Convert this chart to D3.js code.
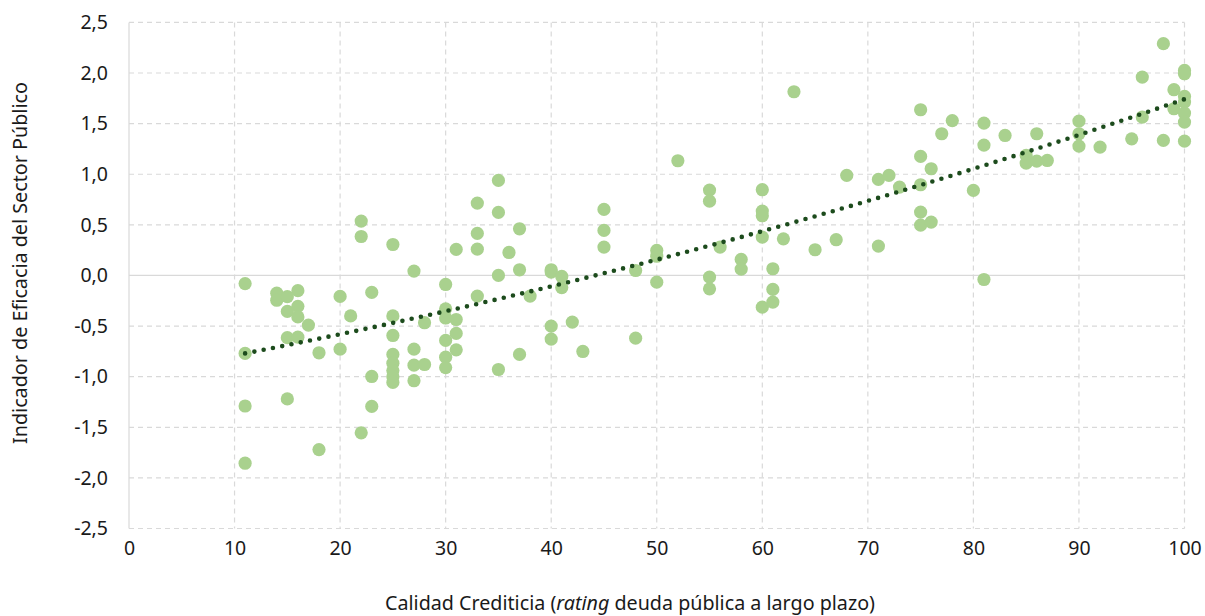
<!DOCTYPE html>
<html>
<head>
<meta charset="utf-8">
<script src="https://cdn.jsdelivr.net/npm/d3@7"></script>
<style>
  html, body { margin: 0; padding: 0; background: #ffffff; }
  svg { display: block; }
  text { fill: #1a1a1a; }
</style>
</head>
<body>
<svg id="chart" width="1205" height="616"></svg>
<script>
// Credit rating (0-100) of long-term public debt, grouped by rating value,
// with the public sector efficacy indicator of each country at that rating.
const ratingValues = [11, 14, 15, 16, 17, 18, 20, 21, 22, 23, 25, 27, 28, 30, 31, 33, 35, 36, 37, 38,
  40, 41, 42, 43, 45, 48, 50, 52, 55, 56, 58, 60, 61, 62, 63, 65, 67, 68, 71, 72, 73, 75, 76, 77, 78,
  80, 81, 83, 85, 86, 87, 90, 92, 95, 96, 98, 99, 100];
const efficacyByRating = [
  [-0.08, -0.77, -1.29, -1.855],
  [-0.175, -0.245],
  [-0.21, -0.355, -0.615, -1.22],
  [-0.15, -0.305, -0.41, -0.61],
  [-0.49],
  [-0.764, -1.72],
  [-0.207, -0.728],
  [-0.40],
  [0.537, 0.385, -1.555],
  [-0.168, -0.998, -1.294],
  [0.306, -0.40, -0.593, -0.78, -0.867, -0.94, -1.0, -1.057],
  [0.043, -0.728, -0.886, -1.04],
  [-0.467, -0.88],
  [-0.089, -0.33, -0.42, -0.642, -0.807, -0.91],
  [0.257, -0.435, -0.573, -0.735],
  [0.715, 0.415, 0.26, -0.204],
  [0.939, 0.623, 0.0, -0.929],
  [0.227],
  [0.461, 0.056, -0.78],
  [-0.204],
  [0.056, 0.033, -0.5, -0.629],
  [-0.01, -0.12],
  [-0.461],
  [-0.751],
  [0.652, 0.445, 0.28],
  [0.049, -0.62],
  [0.247, 0.19, -0.066],
  [1.133],
  [0.843, 0.734, -0.016, -0.132],
  [0.28],
  [0.158, 0.063],
  [0.847, 0.636, 0.59, 0.379, -0.313],
  [0.066, -0.138, -0.263],
  [0.362],
  [1.815],
  [0.254],
  [0.353],
  [0.988],
  [0.949, 0.29],
  [0.988],
  [0.873],
  [1.637, 1.176, 0.896, 0.626, 0.497],
  [1.054, 0.527],
  [1.40],
  [1.53],
  [0.84],
  [1.505, 1.288, -0.04],
  [1.383],
  [1.186, 1.11],
  [1.40, 1.13],
  [1.136],
  [1.525, 1.40, 1.278],
  [1.268],
  [1.35],
  [1.96, 1.565],
  [2.29, 1.334],
  [1.835, 1.647],
  [2.026, 1.993, 1.769, 1.713, 1.604, 1.515, 1.327]
];

const xTickValues = [0, 10, 20, 30, 40, 50, 60, 70, 80, 90, 100];
const yTickValues = [-2.5, -2, -1.5, -1, -0.5, 0, 0.5, 1, 1.5, 2, 2.5];

const xTitle = "Calidad Crediticia (";
const xTitleItalic = "rating";
const xTitleEnd = " deuda pública a largo plazo)";
const yTitle = "Indicador de Eficacia del Sector Público";

// Flatten into one point per country
const points = [];
ratingValues.forEach((r, i) => efficacyByRating[i].forEach(v => points.push({ x: r, y: v })));

const svg = d3.select("#chart");
const tickFont = "'Noto Sans', 'Open Sans', sans-serif";

const x = d3.scaleLinear().domain([0, 100]).range([129, 1184.5]);
const y = d3.scaleLinear().domain([-2.5, 2.5]).range([528.5, 22.4]);

const grid = svg.append("g");

// Horizontal gridlines (zero line drawn solid)
grid.selectAll("line.h").data(yTickValues).join("line")
  .attr("x1", x(0)).attr("x2", x(100))
  .attr("y1", d => y(d)).attr("y2", d => y(d))
  .attr("stroke", "#d9d9d9").attr("stroke-width", 1.2)
  .attr("stroke-dasharray", d => d === 0 ? null : "5,4");

// Vertical gridlines
grid.selectAll("line.v").data(xTickValues.filter(d => d > 0)).join("line")
  .attr("x1", d => x(d)).attr("x2", d => x(d))
  .attr("y1", y(2.5)).attr("y2", y(-2.5))
  .attr("stroke", "#d9d9d9").attr("stroke-width", 1.2)
  .attr("stroke-dasharray", "5,4");

// Vertical axis line
grid.append("line")
  .attr("x1", x(0)).attr("x2", x(0))
  .attr("y1", y(2.5)).attr("y2", y(-2.5))
  .attr("stroke", "#d9d9d9").attr("stroke-width", 1.2);

// Axes (labels only), decimal comma and plain hyphen for negatives
const fmt = d => d3.format(".1f")(d).replace("\u2212", "-").replace(".", ",");
const yAxis = svg.append("g")
  .attr("transform", `translate(${x(0)},0)`)
  .call(d3.axisLeft(y).tickValues(yTickValues).tickFormat(fmt).tickSize(0).tickPadding(21));
yAxis.select(".domain").remove();
yAxis.selectAll("text")
  .style("font-family", tickFont).style("font-size", "19.5px").attr("fill", "#1a1a1a");

const xAxis = svg.append("g")
  .attr("transform", `translate(0,${y(-2.5)})`)
  .call(d3.axisBottom(x).tickValues(xTickValues).tickFormat(d3.format("d")).tickSize(0).tickPadding(13));
xAxis.select(".domain").remove();
xAxis.selectAll("text")
  .style("font-family", tickFont).style("font-size", "19.5px").attr("fill", "#1a1a1a");

// Scatter points
svg.append("g").selectAll("circle").data(points).join("circle")
  .attr("cx", d => x(d.x)).attr("cy", d => y(d.y))
  .attr("r", 6.6)
  .attr("fill", "#a9d18e");

// Second-order polynomial trendline by least squares
function quadFit(pts) {
  let S = [0, 0, 0, 0, 0], T = [0, 0, 0];
  pts.forEach(p => {
    let xp = 1;
    for (let k = 0; k < 5; k++) { S[k] += xp; if (k < 3) T[k] += xp * p.y; xp *= p.x; }
  });
  const A = [[S[0], S[1], S[2], T[0]], [S[1], S[2], S[3], T[1]], [S[2], S[3], S[4], T[2]]];
  for (let i = 0; i < 3; i++) {
    for (let j = i + 1; j < 3; j++) {
      const f = A[j][i] / A[i][i];
      for (let k = i; k < 4; k++) A[j][k] -= f * A[i][k];
    }
  }
  const c = [0, 0, 0];
  for (let i = 2; i >= 0; i--) {
    let s = A[i][3];
    for (let k = i + 1; k < 3; k++) s -= A[i][k] * c[k];
    c[i] = s / A[i][i];
  }
  return c;
}
const coef = quadFit(points);
const xExtent = d3.extent(points, d => d.x);
const trend = d3.range(xExtent[0], xExtent[1] + 0.001, 0.5)
  .map(v => ({ x: v, y: coef[0] + coef[1] * v + coef[2] * v * v }));

svg.append("path")
  .datum(trend)
  .attr("d", d3.line().x(d => x(d.x)).y(d => y(d.y)))
  .attr("fill", "none")
  .attr("stroke", "#1c4b1c")
  .attr("stroke-width", 4.6)
  .attr("stroke-linecap", "round")
  .attr("stroke-dasharray", "0,9.45");

// Axis titles
const titleFont = "'Noto Sans', 'Open Sans', sans-serif";
const xt = svg.append("text")
  .attr("x", 630).attr("y", 610)
  .attr("text-anchor", "middle")
  .style("font-family", titleFont).style("font-size", "20px")
  .attr("textLength", 490).attr("lengthAdjust", "spacingAndGlyphs");
xt.append("tspan").text(xTitle);
xt.append("tspan").style("font-style", "italic").text(xTitleItalic);
xt.append("tspan").text(xTitleEnd);

svg.append("text")
  .attr("transform", "translate(27,263) rotate(-90)")
  .attr("text-anchor", "middle")
  .style("font-family", titleFont).style("font-size", "20px")
  .attr("textLength", 362).attr("lengthAdjust", "spacingAndGlyphs")
  .text(yTitle);
</script>
</body>
</html>
